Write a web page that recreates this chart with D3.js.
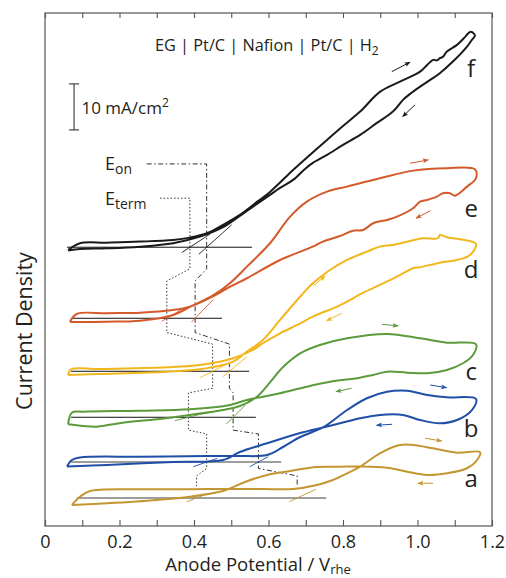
<!DOCTYPE html>
<html>
<head>
<meta charset="utf-8">
<script src="https://cdn.jsdelivr.net/npm/d3@7"></script>
<style>
  body { margin: 0; background: #fff; }
  text { font-family: "Open Sans", "Noto Sans", sans-serif; fill: #231f20; }
</style>
</head>
<body>
<div class="canvas"></div>
<script>
// Data: potential (V vs RHE), current density (mA/cm2) relative to each curve's baseline
const curveNames = ["f", "e", "d", "c", "b", "a"];
const curveColors = ["#1a1a1a", "#d35a2b", "#f2b71d", "#5b9b3b", "#1f4fa6", "#c39631"];
const offsets = [60.59, 45.15, 33.63, 23.63, 13.91, 6.09];

const fForward = [[0.062,-0.59],[0.094,0.87],[0.166,1.00],[0.255,1.22],[0.344,1.59],[0.389,2.09],[0.435,3.04],[0.478,4.85],[0.523,7.02],[0.569,9.85],[0.604,12.02],[0.666,16.80],[0.711,20.07],[0.757,23.33],[0.800,26.37],[0.846,29.48],[0.899,33.76],[0.953,36.00],[1.007,38.17],[1.026,39.63],[1.042,40.72],[1.052,40.61],[1.060,41.09],[1.068,41.37],[1.079,42.52],[1.106,43.98],[1.128,45.72],[1.141,46.80],[1.152,46.37]];
const fReverse = [[1.154,45.93],[1.146,45.07],[1.133,43.61],[1.095,40.35],[1.060,37.83],[1.034,36.37],[1.007,34.91],[0.980,33.33],[0.961,32.02],[0.934,29.48],[0.891,27.02],[0.846,24.41],[0.800,22.24],[0.757,20.07],[0.719,18.33],[0.698,17.02],[0.666,14.63],[0.631,12.89],[0.604,11.37],[0.569,9.41],[0.523,6.80],[0.478,4.35],[0.416,2.30],[0.344,0.87],[0.255,0.13],[0.166,-0.22],[0.094,-0.37],[0.062,-0.70]];

const eForward = [[0.067,-0.80],[0.166,-0.74],[0.255,-0.52],[0.344,0.72],[0.389,2.46],[0.451,4.96],[0.497,7.67],[0.542,11.22],[0.604,16.30],[0.658,22.09],[0.703,25.35],[0.757,27.52],[0.811,28.61],[0.899,30.43],[0.988,32.09],[1.079,32.61],[1.154,32.39]];
const eReverse = [[1.157,30.43],[1.133,28.61],[1.101,26.65],[1.087,27.17],[1.068,27.17],[1.052,26.43],[1.026,25.72],[1.007,25.35],[0.988,23.91],[0.945,22.09],[0.918,21.37],[0.881,20.65],[0.854,19.20],[0.827,19.04],[0.792,17.89],[0.746,16.65],[0.719,15.57],[0.631,12.67],[0.542,8.70],[0.497,6.87],[0.451,4.74],[0.389,2.52],[0.344,1.80],[0.255,1.22],[0.166,1.09],[0.085,0.93],[0.067,-0.80]];

const dForward = [[0.062,-0.80],[0.148,-0.59],[0.328,-0.09],[0.416,0.43],[0.505,2.09],[0.542,4.26],[0.585,6.80],[0.631,11.15],[0.677,15.50],[0.719,19.13],[0.765,22.02],[0.811,24.20],[0.864,26.00],[0.899,27.09],[0.934,27.46],[0.972,28.17],[1.015,28.91],[1.055,28.91],[1.060,29.63],[1.079,29.13],[1.114,28.70],[1.157,27.67]];
const dReverse = [[1.141,25.28],[1.106,24.20],[1.060,23.61],[1.007,22.61],[0.988,22.39],[0.945,20.57],[0.899,18.76],[0.854,17.09],[0.811,15.13],[0.784,14.04],[0.719,11.87],[0.677,10.07],[0.631,8.26],[0.585,6.09],[0.558,4.63],[0.505,2.83],[0.416,1.37],[0.328,0.87],[0.148,0.50],[0.070,0.43],[0.062,-0.80]];

const cForward = [[0.062,-1.52],[0.102,-1.89],[0.140,-2.04],[0.209,-1.17],[0.301,-0.43],[0.389,0.50],[0.478,1.59],[0.523,2.46],[0.569,4.48],[0.600,7.20],[0.639,10.93],[0.685,13.91],[0.738,15.72],[0.811,17.17],[0.918,18.11],[1.007,17.17],[1.079,16.22],[1.157,15.87]];
const cReverse = [[1.149,13.54],[1.122,11.74],[1.079,10.28],[1.026,9.57],[0.972,9.70],[0.918,9.91],[0.881,9.20],[0.838,8.48],[0.765,7.74],[0.703,6.65],[0.631,5.22],[0.585,4.48],[0.542,3.76],[0.497,2.67],[0.389,1.74],[0.255,1.43],[0.102,1.22],[0.072,1.00],[0.062,-1.52]];

const bForward = [[0.059,-0.98],[0.072,0.43],[0.094,0.98],[0.255,1.15],[0.435,1.30],[0.523,1.30],[0.596,1.52],[0.639,3.26],[0.685,5.43],[0.746,7.50],[0.811,11.30],[0.864,13.85],[0.918,15.28],[0.972,15.50],[1.026,14.57],[1.079,14.07],[1.157,13.70]];
const bReverse = [[1.146,11.30],[1.106,9.13],[1.060,8.41],[1.007,9.13],[0.961,10.22],[0.899,10.22],[0.846,9.50],[0.792,8.41],[0.746,7.50],[0.685,6.30],[0.596,4.07],[0.523,2.17],[0.478,0.43],[0.344,0.00],[0.166,-0.65],[0.059,-0.98]];

const aForward = [[0.072,-1.52],[0.094,0.28],[0.121,1.52],[0.255,1.89],[0.389,1.89],[0.478,1.96],[0.585,1.96],[0.666,1.96],[0.730,2.83],[0.773,3.91],[0.808,5.22],[0.846,6.80],[0.899,9.72],[0.953,11.52],[0.988,11.52],[1.042,10.80],[1.106,9.85],[1.168,9.93]];
const aReverse = [[1.160,8.26],[1.133,6.46],[1.079,5.37],[1.026,5.00],[0.972,5.72],[0.918,6.59],[0.846,6.85],[0.792,6.80],[0.730,6.74],[0.658,5.87],[0.596,5.00],[0.537,3.48],[0.497,2.07],[0.478,1.52],[0.389,0.28],[0.301,-0.43],[0.166,-1.15],[0.072,-1.52]];

const forwardScans = [fForward, eForward, dForward, cForward, bForward, aForward];
const reverseScans = [fReverse, eReverse, dReverse, cReverse, bReverse, aReverse];

// onset analysis
const eTerm = [0.389, 0.327, 0.450, 0.385, 0.434, 0.407];
const eOn = [0.434, 0.403, 0.495, 0.505, 0.573, 0.677];
const termSlope = [53, 47.4, 41, 20.4, 28.3, 31.3];
const onSlope = [72.6, 83.6, 67.5, 81, 44.2, 37.6];
const termSpan = [[-0.022,0.054],[-0.014,0.039],[-0.034,0.033],[-0.036,0.049],[-0.036,0.028],[-0.026,0.032]];
const onSpan = [[-0.021,0.067],[-0.010,0.048],[-0.017,0.047],[-0.018,0.033],[-0.023,0.026],[-0.021,0.050]];
const baseRange = [[0.059,0.556],[0.070,0.475],[0.070,0.548],[0.070,0.566],[0.070,0.634],[0.085,0.755]];
const stepTop = [null, 8.1, 5.9, 5.3, 6.1, 4.8];
const stepBottom = [-4.7, -3.1, -3.7, -2.8, -1.4, 2.6];

// scan direction arrows [V1, j1, V2, j2]
const fwdArrows = [[0.931,38.17,0.980,40.22],[0.980,33.70,1.029,34.41],[0.720,18.54,0.752,20.72],[0.904,20.22,0.948,19.85],[1.034,16.74,1.078,16.15],[1.020,12.98,1.065,12.39]];
const revArrows = [[0.993,30.93,0.960,28.39],[1.035,23.39,0.996,21.74],[0.797,12.61,0.756,11.00],[0.823,6.30,0.781,5.57],[0.932,8.20,0.890,7.98],[1.042,3.20,1.001,3.20]];
const labelPos = [[1.144,36.96],[1.144,22.09],[1.144,20.22],[1.144,8.11],[1.144,5.43],[1.144,2.46]];

const xTicks = d3.range(0, 13).map(i => i / 10);
const xLabels = ["0", "0.2", "0.4", "0.6", "0.8", "1.0", "1.2"];

// Settings
const width = 506, height = 578;
const margin = {left: 45, right: 14, top: 13, bottom: 52};
const curve_width = 2;

const svg = d3.select(".canvas").append("svg")
  .attr("width", width)
  .attr("height", height);

const x = d3.scaleLinear().domain([0, 1.2]).range([margin.left, width - margin.right]);
const y = d3.scaleLinear().domain([0, 111.5]).range([height - margin.bottom, margin.top]);

svg.append("defs").selectAll("marker")
  .data(curveColors)
  .enter()
  .append("marker")
  .attr("id", (d, i) => "arrow-" + i)
  .attr("viewBox", "0 -5 10 10")
  .attr("refX", 9)
  .attr("refY", 0)
  .attr("orient", "auto")
  .attr("markerUnits", "userSpaceOnUse")
  .attr("markerWidth", 7)
  .attr("markerHeight", 6)
  .append("path")
  .attr("d", "M0,-4 L10,0 L0,4 L2,0 Z")
  .attr("fill", d => d);

// frame and axes
svg.append("rect")
  .attr("x", x(0)).attr("y", y(111.5))
  .attr("width", x(1.2) - x(0)).attr("height", y(0) - y(111.5))
  .attr("fill", "none").attr("stroke", "#555").attr("stroke-width", 1.2);

const xAxis = svg.append("g")
  .attr("transform", "translate(0," + y(0) + ")")
  .call(d3.axisBottom(x).tickValues(xTicks).tickSizeInner(-6).tickSizeOuter(0).tickPadding(9.5)
    .tickFormat(d => { const k = Math.round(d * 10); return k % 2 === 0 ? xLabels[k / 2] : ""; }));
xAxis.select(".domain").remove();
xAxis.selectAll("line").attr("stroke", "#555").attr("stroke-width", 1.1);
xAxis.selectAll("text").style("font-family", '"Open Sans", sans-serif').style("font-size", "18px").attr("fill", "#231f20");

const topAxis = svg.append("g")
  .attr("transform", "translate(0," + y(111.5) + ")")
  .call(d3.axisTop(x).tickValues(xTicks).tickSizeInner(-5).tickSizeOuter(0).tickFormat(""));
topAxis.select(".domain").remove();
topAxis.selectAll("line").attr("stroke", "#555").attr("stroke-width", 1.1);

const xTitle = svg.append("text")
  .attr("x", 258).attr("y", 571)
  .attr("text-anchor", "middle")
  .attr("font-size", "18.5px");
xTitle.append("tspan").text("Anode Potential / V");
xTitle.append("tspan").attr("dy", 3).attr("font-size", "13px").text("rhe");

svg.append("text")
  .attr("transform", "translate(32,331) rotate(-90)")
  .attr("text-anchor", "middle")
  .attr("font-size", "21.5px")
  .text("Current Density");

const title = svg.append("text")
  .attr("x", 155).attr("y", 51)
  .attr("font-size", "16.3px");
title.append("tspan").text("EG | Pt/C | Nafion | Pt/C | H");
title.append("tspan").attr("dy", 4).attr("font-size", "12px").text("2");

// scale bar 10 mA/cm2
const bar = svg.append("g").attr("stroke", "#333").attr("stroke-width", 1.1);
bar.append("line").attr("x1", x(0.078)).attr("x2", x(0.078)).attr("y1", y(86.09)).attr("y2", y(96.09));
bar.append("line").attr("x1", x(0.078) - 5).attr("x2", x(0.078) + 5).attr("y1", y(86.09)).attr("y2", y(86.09));
bar.append("line").attr("x1", x(0.078) - 5).attr("x2", x(0.078) + 5).attr("y1", y(96.09)).attr("y2", y(96.09));
const barText = svg.append("text").attr("x", x(0.098)).attr("y", y(89.5)).attr("font-size", "17px");
barText.append("tspan").text("10 mA/cm");
barText.append("tspan").attr("dy", -7).attr("font-size", "12px").text("2");

// E_on / E_term labels
const onText = svg.append("text").attr("x", x(0.161)).attr("y", y(77.39)).attr("font-size", "18px");
onText.append("tspan").text("E");
onText.append("tspan").attr("dy", 4).attr("font-size", "14px").text("on");
const termText = svg.append("text").attr("x", x(0.161)).attr("y", y(69.78)).attr("font-size", "18px");
termText.append("tspan").text("E");
termText.append("tspan").attr("dy", 4).attr("font-size", "14px").text("term");

// baselines
svg.append("g").selectAll("line")
  .data(offsets)
  .enter()
  .append("line")
  .attr("x1", (d, i) => x(baseRange[i][0]))
  .attr("x2", (d, i) => x(baseRange[i][1]))
  .attr("y1", d => y(d)).attr("y2", d => y(d))
  .attr("stroke", (d, i) => i >= 4 ? "#7d7d7d" : "#111")
  .attr("stroke-width", (d, i) => i >= 4 ? 1.3 : 1);

// step lines linking onset values
function stepPoints(values, startV, startJ) {
  let pts = [[startV, startJ], [values[0], startJ]];
  for (let i = 0; i < values.length; i++) {
    if (stepTop[i] !== null) pts.push([values[i], offsets[i] + stepTop[i]]);
    pts.push([values[i], offsets[i] + stepBottom[i]]);
  }
  return pts;
}
const stepLine = d3.line().x(d => x(d[0])).y(d => y(d[1]));
svg.append("path")
  .attr("d", stepLine(stepPoints(eOn, 0.273, 78.7)))
  .attr("fill", "none").attr("stroke", "#333").attr("stroke-width", 1)
  .attr("stroke-dasharray", "5,2.5,1.5,2.5");
svg.append("path")
  .attr("d", stepLine(stepPoints(eTerm, 0.309, 71.24)))
  .attr("fill", "none").attr("stroke", "#333").attr("stroke-width", 1)
  .attr("stroke-dasharray", "1.5,2");

// tangent lines
function tangent(E, s, span, off) {
  return [[E + span[0], off + s * span[0]], [E + span[1], off + s * span[1]]];
}
const tangents = [];
for (let i = 0; i < 6; i++) {
  tangents.push({i: i, pts: tangent(eTerm[i], termSlope[i], termSpan[i], offsets[i])});
  tangents.push({i: i, pts: tangent(eOn[i], onSlope[i], onSpan[i], offsets[i])});
}
svg.append("g").selectAll("path")
  .data(tangents)
  .enter()
  .append("path")
  .attr("d", d => stepLine(d.pts))
  .attr("stroke", d => curveColors[d.i])
  .attr("stroke-width", 0.9)
  .attr("fill", "none");

// CV loops
const cvLine = d3.line()
  .x(d => x(d[0]))
  .y(d => y(d[1]))
  .curve(d3.curveCatmullRom.alpha(0.5));

svg.append("g").selectAll("path")
  .data(curveNames)
  .enter()
  .append("path")
  .attr("d", (d, i) => cvLine(forwardScans[i].concat(reverseScans[i]).map(p => [p[0], p[1] + offsets[i]])))
  .attr("fill", "none")
  .attr("stroke", (d, i) => curveColors[i])
  .attr("stroke-width", curve_width)
  .attr("stroke-linejoin", "round");

// arrows
const arrows = [];
for (let i = 0; i < 6; i++) {
  arrows.push({i: i, a: fwdArrows[i]});
  arrows.push({i: i, a: revArrows[i]});
}
svg.append("g").selectAll("line")
  .data(arrows)
  .enter()
  .append("line")
  .attr("x1", d => x(d.a[0])).attr("y1", d => y(d.a[1] + offsets[d.i]))
  .attr("x2", d => x(d.a[2])).attr("y2", d => y(d.a[3] + offsets[d.i]))
  .attr("stroke", d => curveColors[d.i])
  .attr("stroke-width", 1)
  .attr("marker-end", d => "url(#arrow-" + d.i + ")");

// curve labels
svg.append("g").selectAll("text")
  .data(curveNames)
  .enter()
  .append("text")
  .attr("x", (d, i) => x(labelPos[i][0]))
  .attr("y", (d, i) => y(labelPos[i][1] + offsets[i]))
  .attr("text-anchor", "middle")
  .attr("font-size", "24px")
  .text(d => d);
</script>
</body>
</html>
